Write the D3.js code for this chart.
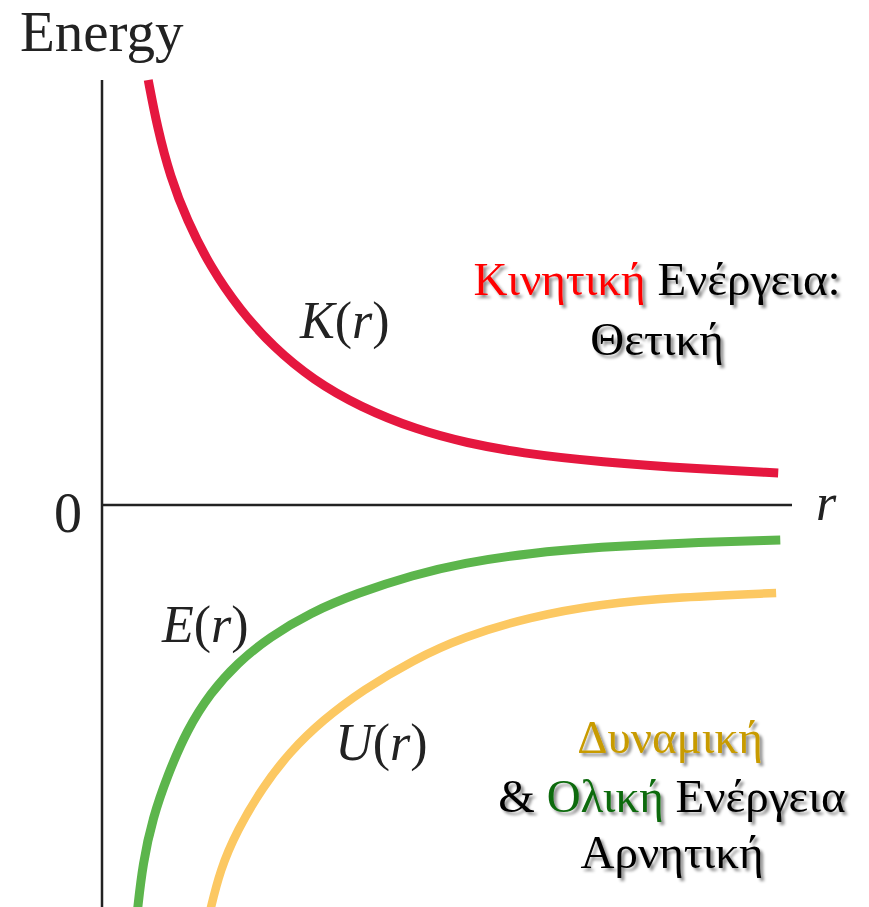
<!DOCTYPE html>
<html>
<head>
<meta charset="utf-8">
<script src="https://cdn.jsdelivr.net/npm/d3@7"></script>
</head>
<body style="margin:0;background:#fff">
<script>
// ---- Data ----
// Kinetic energy K(r)
const rK = [0.67, 0.80, 0.99, 1.23, 1.57, 2.00, 2.48, 3.06, 3.74, 4.57, 5.29, 6.06, 7.22, 8.67, 9.80];
const valK = [4.25, 3.78, 3.28, 2.85, 2.38, 1.95, 1.58, 1.25, 0.98, 0.75, 0.62, 0.52, 0.43, 0.36, 0.32];
// Total energy E(r)
const rE = [0.51, 0.59, 0.74, 0.94, 1.23, 1.57, 1.96, 2.43, 3.01, 3.70, 4.51, 5.23, 6.20, 7.22, 8.38, 9.83];
const valE = [-4.08, -3.58, -3.12, -2.72, -2.25, -1.88, -1.58, -1.32, -1.08, -0.88, -0.70, -0.58, -0.48, -0.42, -0.38, -0.35];
// Potential energy U(r)
const rU = [1.56, 1.71, 1.96, 2.33, 2.72, 3.20, 3.78, 4.51, 5.23, 6.20, 7.22, 8.38, 9.77];
const valU = [-4.08, -3.65, -3.25, -2.82, -2.47, -2.15, -1.85, -1.55, -1.32, -1.12, -0.99, -0.92, -0.88];

const axisTitleY = "Energy";
const axisTitleX = "r";
const zeroLabel = "0";
const curveLabels = [
  { name: "K", r: 2.87, v: 1.67 },
  { name: "E", r: 0.87, v: -1.37 },
  { name: "U", r: 3.38, v: -2.55 }
];

const W = 869, H = 907;
const FONT = "Liberation Serif";
const svg = d3.select("body").append("svg")
  .attr("width", W).attr("height", H)
  .style("display", "block");

const defs = svg.append("defs");
const flt = defs.append("filter").attr("id", "shadow")
  .attr("x", "-10%").attr("y", "-20%").attr("width", "130%").attr("height", "150%");
flt.append("feDropShadow").attr("dx", 3).attr("dy", 3).attr("stdDeviation", 1.6)
  .attr("flood-color", "#000").attr("flood-opacity", 0.45);

const x = d3.scaleLinear().domain([0, 10]).range([102, 792]);
const y = d3.scaleLinear().domain([-4, 4]).range([905, 105]);

// Axes
svg.append("line")
  .attr("x1", x(0)).attr("x2", x(0))
  .attr("y1", y(4.25)).attr("y2", H)
  .attr("stroke", "#222").attr("stroke-width", 2.5);
svg.append("line")
  .attr("x1", x(0)).attr("x2", x(10))
  .attr("y1", y(0)).attr("y2", y(0))
  .attr("stroke", "#222").attr("stroke-width", 2.5);

// Curves
const line = d3.line().x(d => x(d[0])).y(d => y(d[1])).curve(d3.curveBasis);
const series = [
  { r: rK, v: valK, color: "#e5173f", w: 9 },
  { r: rE, v: valE, color: "#5cb54c", w: 9 },
  { r: rU, v: valU, color: "#fcc862", w: 8.5 }
];
series.forEach(s => {
  svg.append("path")
    .attr("d", line(s.r.map((r, i) => [r, s.v[i]])))
    .attr("fill", "none")
    .attr("stroke", s.color)
    .attr("stroke-width", s.w)
    .attr("stroke-linecap", "butt");
});

function txt(sel) {
  return sel.attr("font-family", FONT).style("font-family", FONT);
}

// Axis texts
txt(svg.append("text")).attr("x", 20).attr("y", 51)
  .attr("font-size", 57).attr("fill", "#222")
  .text(axisTitleY);
txt(svg.append("text")).attr("x", x(0) - 20).attr("y", y(0) + 27)
  .attr("text-anchor", "end")
  .attr("font-size", 56).attr("fill", "#222")
  .text(zeroLabel);
txt(svg.append("text")).attr("x", 816).attr("y", y(0) + 15)
  .attr("font-size", 52).attr("font-style", "italic").attr("fill", "#222")
  .text(axisTitleX);

// Curve labels K(r), E(r), U(r)
curveLabels.forEach(c => {
  const t = txt(svg.append("text"))
    .attr("x", x(c.r)).attr("y", y(c.v))
    .attr("font-size", 52).attr("fill", "#222");
  t.append("tspan").attr("font-style", "italic").text(c.name);
  t.append("tspan").text("(");
  t.append("tspan").attr("font-style", "italic").text("r");
  t.append("tspan").text(")");
});

// Greek annotations
const gSize = 47;
function annot(xc, yb, parts) {
  const t = txt(svg.append("text"))
    .attr("x", xc).attr("y", yb)
    .attr("text-anchor", "middle")
    .attr("font-size", gSize)
    .attr("filter", "url(#shadow)");
  parts.forEach(p => t.append("tspan").attr("fill", p[1]).text(p[0]));
}
annot(657, 295, [["Κινητική", "#ff0000"], [" Ενέργεια:", "#000"]]);
annot(657, 355, [["Θετική", "#000"]]);
annot(670, 753, [["Δυναμική", "#c89b00"]]);
annot(672, 812, [["& ", "#000"], ["Ολική", "#0a6a0a"], [" Ενέργεια", "#000"]]);
annot(672, 868, [["Αρνητική", "#000"]]);
</script>
</body>
</html>
